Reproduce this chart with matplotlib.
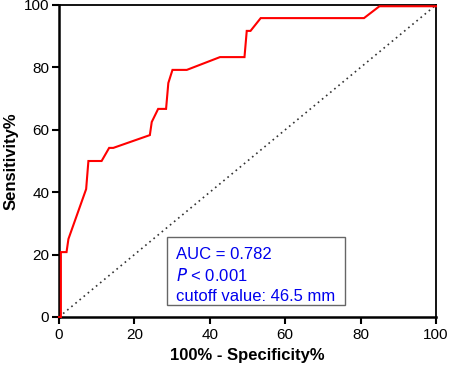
import matplotlib
matplotlib.use("Agg")
import matplotlib.pyplot as plt
from matplotlib.patches import Rectangle

plt.rcParams['font.family'] = ['Liberation Sans', 'DejaVu Sans']

# ROC curve points (100% - Specificity%, Sensitivity%)
fpr = [0, 0.5, 0.5, 2.0, 2.5, 7.2, 7.8, 11.3, 13.3, 14.4, 24.1, 24.6, 26.3, 28.4, 29.0, 30.1,
       33.9, 42.7, 49.2, 49.8, 50.8, 53.5, 80.9, 85.0, 100]
tpr = [0, 0, 20.8, 20.8, 25.0, 41.0, 50.0, 50.0, 54.2, 54.2, 58.3, 62.5, 66.7, 66.7, 75.0, 79.2,
       79.2, 83.3, 83.3, 91.7, 91.7, 95.8, 95.8, 99.6, 99.6]
ref_line = [0, 100]
xticks = [0, 20, 40, 60, 80, 100]
yticks = [0, 20, 40, 60, 80, 100]
xlabel = "100% - Specificity%"
ylabel = "Sensitivity%"
auc_text = "AUC = 0.782"
p_text = "$\\mathit{P}$ < 0.001"
cutoff_text = "cutoff value: 46.5 mm"

fig = plt.figure(figsize=(4.5, 3.7), dpi=100)
ax = fig.add_axes([59/450, 1-317/370, (436-59)/450, (317-5)/370])

ax.plot(ref_line, ref_line, linestyle=(0, (1, 2.2)), color='#333333', linewidth=1.2)
ax.plot(fpr, tpr, color='#ff0000', linewidth=1.5, solid_joinstyle='miter', clip_on=False, zorder=3)

ax.set_xlim(0, 100)
ax.set_ylim(0, 100)
ax.set_xticks(xticks)
ax.set_yticks(yticks)
ax.tick_params(axis='both', direction='out', length=5, width=1.5, labelsize=11, pad=2)
ax.tick_params(axis='x', pad=3)
for s in ['left', 'bottom']:
    ax.spines[s].set_linewidth(1.8)
for s in ['top', 'right']:
    ax.spines[s].set_linewidth(1.3)

ax.set_xlabel(xlabel, fontsize=12, fontweight='bold', labelpad=4)
ax.set_ylabel(ylabel, fontsize=12, fontweight='bold', labelpad=4)

# legend-like box
ax.add_patch(Rectangle((28.6, 3.8), 47.2, 21.8, facecolor='white', edgecolor='#666666',
                       linewidth=1.0, zorder=4))
ax.text(31.0, 22.3, auc_text + "\n" + p_text + "\n" + cutoff_text,
        fontsize=12, color='#0000ee', va='top', ha='left', linespacing=1.35, zorder=5)

fig.savefig("out.png", dpi=100)
